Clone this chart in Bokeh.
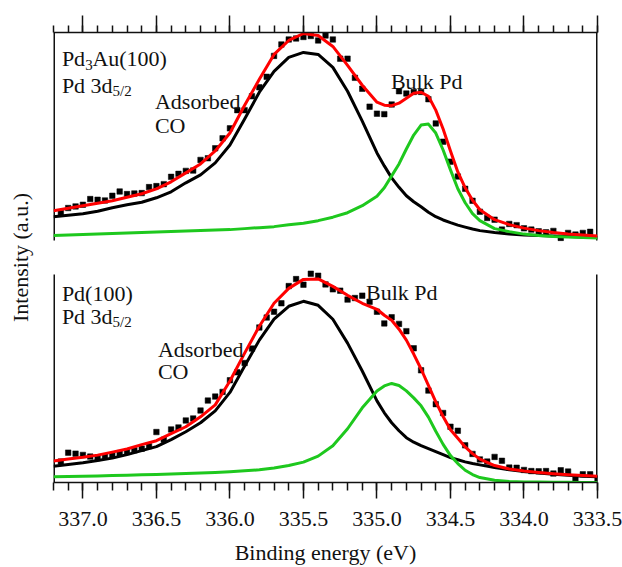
from bokeh.plotting import figure
from bokeh.models import (Range1d, LinearAxis, SingleIntervalTicker, PrintfTickFormatter,
                          CustomJSTickFormatter, FixedTicker, Label)
from bokeh.embed import file_html
from bokeh.resources import INLINE

# ---------------- data ----------------
# energies of the fitted curves (eV)
E_CURVE = [337.2, 337.1, 337.0, 336.9, 336.8, 336.7, 336.6, 336.5, 336.4, 336.3,
           336.2, 336.1, 336.0, 335.9, 335.8, 335.7, 335.6, 335.5, 335.4, 335.3,
           335.2, 335.1, 335.0, 334.95, 334.9, 334.85, 334.8, 334.75, 334.7, 334.65,
           334.6, 334.55, 334.5, 334.45, 334.4, 334.35, 334.3, 334.2, 334.1, 334.0,
           333.9, 333.8, 333.7, 333.6, 333.5]

# energies of measured points (eV)
E_TOP_PTS = [337.15, 337.10, 337.05, 337.00, 336.95, 336.90, 336.85, 336.80, 336.75, 336.70,
             336.65, 336.60, 336.55, 336.50, 336.45, 336.40, 336.35, 336.30, 336.25, 336.20,
             336.15, 336.10, 336.05, 336.00, 335.95, 335.90, 335.85, 335.80, 335.75, 335.70,
             335.65, 335.60, 335.55, 335.50, 335.45, 335.40, 335.35, 335.30, 335.25, 335.20,
             335.15, 335.10, 335.05, 335.00, 334.95, 334.90, 334.85, 334.80, 334.75, 334.70,
             334.65, 334.60, 334.55, 334.50, 334.45, 334.40, 334.35, 334.30, 334.25, 334.20,
             334.15, 334.10, 334.05, 334.00, 333.95, 333.90, 333.85, 333.80, 333.75, 333.70,
             333.65, 333.60, 333.55]
E_BOT_PTS = E_TOP_PTS + [333.50]

# Pd3Au(100) panel (intensity, a.u.)
TOP_PTS = [27.7, 32.7, 34.3, 36, 41.7, 41, 40.3, 45, 49.3, 46.7,
           47.3, 47.7, 53.7, 54.7, 56.7, 64, 67, 70, 70.3, 81,
           82.7, 92.7, 102.7, 112.7, 131, 131, 145, 154, 164.5, 185.5,
           197, 202, 203, 204.5, 205.5, 201, 206, 202, 182.7, 182.7,
           163.5, 152.5, 134.5, 127.5, 127, 136.7, 150, 147.7, 149.3, 149.3,
           142, 117.7, 99.3, 79.3, 64.3, 52, 40, 29, 22.7, 21,
           11, 16.7, 15.5, 12.3, 11, 9.3, 8.3, 9.7, 2.7, 7.7,
           6, 7.7, 8.8]
TOP_CO = [24, 25.5, 27, 29.5, 33, 36, 38.5, 43, 49, 58,
          66, 78, 96, 122, 149, 170, 184, 189, 187, 174,
          150, 120, 88, 75, 63, 53.5, 45, 39, 34, 28.5,
          24, 20.7, 18, 15.5, 13.5, 11.6, 10, 8, 6.5, 5.5,
          5, 4.5, 4, 3.5, 3]
TOP_BULK = [5, 5.5, 6, 6.5, 7, 7.5, 8, 8.5, 9, 9.5,
            10, 10.5, 11, 12, 13, 14, 16, 17.5, 20, 23.5,
            28, 35, 44.5, 53, 65, 77, 92, 106, 116, 117,
            108, 91, 71, 52, 38, 27, 20, 12, 9, 6.5,
            5, 4, 3.5, 3, 2.5]
TOP_FIT = [30, 32.5, 35, 37.5, 40, 43.5, 47, 52, 59, 68,
           77, 90, 108, 136, 162, 187, 201, 208, 206, 195,
           176, 156, 139, 136, 135.5, 138, 143, 148, 149, 145,
           131, 112, 90, 69, 53, 40.5, 31, 21, 16, 12.5,
           10, 8, 6.5, 5.5, 4.5]

# Pd(100) panel (intensity, a.u.)
BOT_PTS = [21, 30, 29, 27.7, 26, 24.5, 26, 27.3, 29.5, 30.7,
           32.3, 34, 36.5, 50.7, 43, 53.3, 55.3, 62.3, 64.3, 72.3,
           82.3, 86.3, 91, 102.7, 110.7, 120, 134.5, 155.7, 165.7, 171.5,
           180, 197.3, 204.3, 198.7, 209.7, 207.7, 199, 194, 192.7, 183.7,
           185.3, 187.7, 181.5, 171.5, 159.8, 166, 159.3, 152, 134.8, 112.7,
           92.3, 78.7, 69.8, 56, 52, 37.3, 28.7, 23.2, 21, 25.7,
           21.8, 15, 14.8, 12.6, 11.5, 11.2, 11.5, 9, 12.3, 11,
           4, 8.2, 8.2, 4]
BOT_CO = [16.3, 18, 19.8, 22, 24.5, 28, 32, 36, 43, 51,
          60, 72, 90.5, 117, 143, 164, 177, 182, 178, 164,
          140, 112, 82, 70, 60, 52, 45, 40.5, 37, 34,
          31, 28, 25, 22.8, 20.7, 19, 17.7, 15, 12.8, 11,
          9.5, 8.2, 7.2, 6.4, 5.7]
BOT_BULK = [5.7, 6, 6.3, 6.6, 7, 7.3, 7.7, 8, 8.5, 9,
            9.5, 10, 10.7, 11.7, 12.7, 14.5, 17, 20.5, 26.5, 37,
            54, 75, 92, 97, 99.5, 97.5, 92, 85, 77, 65.7,
            51.5, 38.3, 27, 19, 12.3, 8, 5, 2.2, 1, 0.6,
            0.4, 0.3, 0.2, 0.1, 0]
BOT_FIT = [21.7, 23.5, 25.3, 27.5, 30.5, 33.7, 38, 42, 49, 56,
           66, 78, 102, 130, 157, 180, 195, 204, 204.5, 197,
           188, 180, 174, 168, 163, 154, 143, 129, 114, 97.5,
           81, 66.3, 53, 44.5, 35.7, 29, 23.5, 17, 13.5, 11.5,
           10, 8.8, 7.8, 7, 6.3]

MAJOR_TICK_STEP = 0.5
X_LABEL = "Binding energy (eV)"
Y_LABEL = "Intensity (a.u.)"

# ---------------- layout / style ----------------
X_START, X_END = 337.2, 333.5
PANEL_TOP = 209
FONT = "Liberation Serif"
FS = "22px"
RED = "#ff0000"
GREEN = "#1ec81e"
INK = "#111111"

p = figure(width=622, height=567, output_backend="svg", toolbar_location=None,
           x_range=Range1d(X_START, X_END), y_range=Range1d(0, 452),
           min_border_left=53, min_border_right=25, min_border_top=32, min_border_bottom=83)
p.extra_y_ranges = {"top": Range1d(-243, 209)}
p.outline_line_color = None
p.xgrid.visible = False
p.ygrid.visible = False
p.background_fill_color = "white"
p.border_fill_color = "white"

# bottom axis
xa = p.xaxis[0]
xa.ticker = SingleIntervalTicker(interval=MAJOR_TICK_STEP, num_minor_ticks=5)
xa.formatter = PrintfTickFormatter(format="%.1f")
xa.major_tick_in = 0
xa.major_tick_out = 16
xa.minor_tick_in = 0
xa.minor_tick_out = 8
xa.axis_line_width = 1.5
xa.axis_line_color = INK
xa.major_tick_line_width = 1.5
xa.minor_tick_line_width = 1.5
xa.major_tick_line_color = INK
xa.minor_tick_line_color = INK
xa.major_label_text_font = FONT
xa.major_label_text_font_size = FS
xa.major_label_text_color = INK
xa.major_label_standoff = 13
xa.axis_label = X_LABEL
xa.axis_label_text_font = FONT
xa.axis_label_text_font_size = FS
xa.axis_label_text_font_style = "normal"
xa.axis_label_text_color = INK
xa.axis_label_standoff = 11

# top axis (ticks only)
ta = LinearAxis(ticker=SingleIntervalTicker(interval=MAJOR_TICK_STEP, num_minor_ticks=5),
                formatter=CustomJSTickFormatter(code="return '';"),
                major_tick_in=0, major_tick_out=17, minor_tick_in=0, minor_tick_out=7,
                axis_line_width=1.5, axis_line_color=INK,
                major_tick_line_width=1.5, minor_tick_line_width=1.5,
                major_tick_line_color=INK, minor_tick_line_color=INK,
                major_label_text_font_size="0px", major_label_standoff=0)
p.add_layout(ta, "above")

# left axis: label only
ya = p.yaxis[0]
ya.ticker = FixedTicker(ticks=[])
ya.axis_line_color = None
ya.major_tick_line_color = None
ya.minor_tick_line_color = None
ya.major_label_text_font_size = "0px"
ya.axis_label = Y_LABEL
ya.axis_label_text_font = FONT
ya.axis_label_text_font_size = FS
ya.axis_label_text_font_style = "normal"
ya.axis_label_text_color = INK
ya.axis_label_standoff = 21

# panel side lines
for rng in ("top", "default"):
    p.segment(x0=[X_START, X_END], y0=[0, 0], x1=[X_START, X_END], y1=[PANEL_TOP, PANEL_TOP],
              line_color=INK, line_width=3, y_range_name=rng)

# data
for rng, ep, pts, co, bulk, fit in (("top", E_TOP_PTS, TOP_PTS, TOP_CO, TOP_BULK, TOP_FIT),
                                     ("default", E_BOT_PTS, BOT_PTS, BOT_CO, BOT_BULK, BOT_FIT)):
    p.scatter(ep, pts, marker="square", size=5.5, fill_color="black", line_color="black",
              line_width=0.5, y_range_name=rng)
    p.line(E_CURVE, co, line_color="black", line_width=3, line_join="round", y_range_name=rng)
    p.line(E_CURVE, bulk, line_color=GREEN, line_width=3, line_join="round", y_range_name=rng)
    p.line(E_CURVE, fit, line_color=RED, line_width=3, line_join="round", y_range_name=rng)


def txt(s, x, y, rng, size=FS, dx=0):
    p.add_layout(Label(x=x, y=y, y_range_name=rng, text=s, text_font=FONT, text_font_size=size,
                       text_color=INK, text_baseline="alphabetic", text_align="left", x_offset=dx))


SUB = "15px"
# top panel texts
txt("Pd", 337.143, 182.5, "top")
txt("3", 337.143, 176.5, "top", SUB, 23.3)
txt("Au(100)", 337.143, 182.5, "top", FS, 30.5)
txt("Pd 3d", 337.143, 156, "top")
txt("5/2", 337.143, 150.5, "top", SUB, 50.7)
txt("Adsorbed", 336.51, 139.5, "top")
txt("CO", 336.51, 115.5, "top")
txt("Bulk Pd", 334.905, 160, "top")
# bottom panel texts
txt("Pd(100)", 337.143, 189.5, "default")
txt("Pd 3d", 337.143, 166.5, "default")
txt("5/2", 337.143, 161, "default", SUB, 50.7)
txt("Adsorbed", 336.49, 134, "default")
txt("CO", 336.49, 111, "default")
txt("Bulk Pd", 335.074, 190.5, "default")

open("out.html", "w").write(file_html(p, INLINE))
